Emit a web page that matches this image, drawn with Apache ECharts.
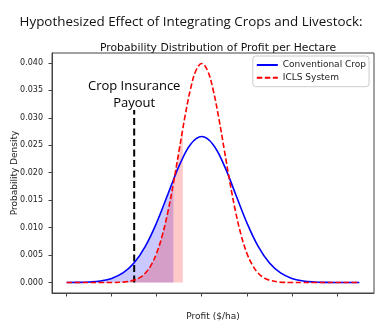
<!DOCTYPE html>
<html>
<head>
<meta charset="utf-8">
<script src="https://cdn.jsdelivr.net/npm/echarts@6/dist/echarts.min.js"></script>
<style>html,body{margin:0;padding:0;background:#fff}#c{width:382px;height:328px}</style>
</head>
<body>
<div id="c"></div>
<script>
// ---- data ----
const blueX = [0,5,10,15,20,25,30,35,40,45,47.4,50,55,60,65,70,75,80,85,90,95,100,105,110,115,120,125,130];
const blueY = [0.0000089,0.000032,0.000103,0.000295,0.00076,0.001748,0.003599,0.006632,0.010934,0.016131,0.018689,0.021297,0.025159,0.026596,0.025159,0.021297,0.016131,0.010934,0.006632,0.003599,0.001748,0.00076,0.000295,0.000103,0.000032,0.0000089,0.0000022,0.0000005];
const redX = [0,5,10,15,20,25,30,32.5,35,37.5,40,42.5,45,47.5,50,51.6,52.5,55,57.5,60,62.5,65,67.5,70,72.5,75,77.5,80,82.5,85,87.5,90,95,100,105,110,115,120,125,130];
const redY = [0,0,0.00000015,0.0000016,0.0000134,0.000087,0.000443,0.000909,0.001753,0.003174,0.005399,0.008628,0.012952,0.018265,0.024197,0.028034,0.030114,0.035207,0.038667,0.039894,0.038667,0.035207,0.030114,0.024197,0.018265,0.012952,0.008628,0.005399,0.003174,0.001753,0.000909,0.000443,0.000087,0.0000134,0.0000016,0.00000015,0,0,0,0];
const blueCut = 47.4;   // shaded lower tail, conventional
const redCut = 51.6;    // shaded lower tail, ICLS
const payoutX = 30;
const payoutTop = 0.0314;
const payoutLabelY = 0.0341;
const xTicks = [0,20,40,60,80,100,120];
const yTicks = [0,0.005,0.01,0.015,0.02,0.025,0.03,0.035,0.04];
const seriesNames = ['Conventional Crop','ICLS System'];
const titleText = 'Hypothesized Effect of Integrating Crops and Livestock:';
const subtitleText = 'Probability Distribution of Profit per Hectare';
const xName = 'Profit ($/ha)';
const yName = 'Probability Density';
const payoutText = 'Crop Insurance\nPayout';

const pair = (xs, ys) => xs.map((x, i) => [x, ys[i]]);
const blueData = pair(blueX, blueY);
const redData = pair(redX, redY);
const blueFill = blueData.filter(d => d[0] <= blueCut);
const redFill = redData.filter(d => d[0] <= redCut);

const chart = echarts.init(document.getElementById('c'), null, {renderer: 'canvas'});
chart.setOption({
  animation: false,
  backgroundColor: '#fff',
  title: [
    {text: titleText, left: 'center', top: 11,
     textStyle: {fontFamily: 'Open Sans', fontSize: 13.4, fontWeight: 'normal', color: '#111'}},
    {text: subtitleText, left: 213, textAlign: 'center', top: 38,
     textStyle: {fontFamily: 'DejaVu Sans', fontSize: 10.8, fontWeight: 'normal', color: '#111'}}
  ],
  grid: {left: 52, right: 8, top: 53, bottom: 35, containLabel: false, outerBoundsMode: 'none',
         show: true, borderColor: '#444', borderWidth: 1, backgroundColor: 'transparent'},
  legend: {
    data: seriesNames, orient: 'vertical', right: 13, top: 56,
    padding: [4.5, 3, 4.5, 3], itemWidth: 21, itemHeight: 9, itemGap: 3.7,
    backgroundColor: '#fff', borderColor: '#ccc', borderWidth: 1, borderRadius: 3,
    itemStyle: {opacity: 0},
    textStyle: {fontFamily: 'DejaVu Sans', fontSize: 9, color: '#222'}
  },
  xAxis: {
    type: 'value', min: -6.5, max: 136.5,
    name: xName, nameLocation: 'middle', nameGap: 19, nameMoveOverlap: false,
    nameTextStyle: {fontFamily: 'DejaVu Sans', fontSize: 9, color: '#222'},
    axisLine: {show: true, onZero: false, lineStyle: {color: '#444', width: 1}},
    axisTick: {show: true, customValues: xTicks, length: 3.5, lineStyle: {color: '#444'}},
    axisLabel: {show: false},
    splitLine: {show: false}
  },
  yAxis: {
    type: 'value', min: -0.0019, max: 0.0418,
    name: yName, nameLocation: 'middle', nameGap: 33, nameRotate: 90, nameMoveOverlap: false,
    nameTextStyle: {fontFamily: 'DejaVu Sans', fontSize: 9, color: '#222'},
    axisLine: {show: true, onZero: false, lineStyle: {color: '#444', width: 1}},
    axisTick: {show: true, customValues: yTicks, length: 3.5, lineStyle: {color: '#444'}},
    axisLabel: {show: true, customValues: yTicks, margin: 9,
      formatter: v => v.toFixed(3),
      fontFamily: 'DejaVu Sans', fontSize: 8, color: '#222'},
    splitLine: {show: false}
  },
  series: [
    {type: 'line', data: blueFill, smooth: 0.4, symbol: 'none', silent: true,
     lineStyle: {width: 0}, areaStyle: {color: 'rgba(0,0,255,0.3)'}, z: 1},
    {type: 'line', data: redFill, smooth: 0.4, symbol: 'none', silent: true,
     lineStyle: {width: 0}, areaStyle: {color: 'rgba(255,0,0,0.3)'}, z: 2},
    {type: 'line', data: [[payoutX, 0], [payoutX, payoutTop]], symbol: 'none', silent: true,
     lineStyle: {color: '#000', width: 2, type: [7, 3.5]}, z: 3},
    {name: seriesNames[0], type: 'line', data: blueData, smooth: 0.4, symbol: 'none', silent: true,
     color: '#0000ff', lineStyle: {color: '#0000ff', width: 1.6}, z: 4},
    {name: seriesNames[1], type: 'line', data: redData, smooth: 0.4, symbol: 'none', silent: true,
     color: '#ff0000', lineStyle: {color: '#ff0000', width: 1.6, type: [5.5, 2.5]}, z: 5},
    {type: 'scatter', data: [[payoutX, payoutLabelY]], symbolSize: 0, silent: true,
     itemStyle: {color: 'transparent', opacity: 1},
     label: {show: true, position: 'inside', formatter: payoutText, align: 'center',
       fontFamily: 'Open Sans', fontSize: 13, lineHeight: 17, color: '#000', opacity: 1,
       textBorderWidth: 0, textBorderColor: 'transparent'}, z: 6}
  ]
});
</script>
</body>
</html>
